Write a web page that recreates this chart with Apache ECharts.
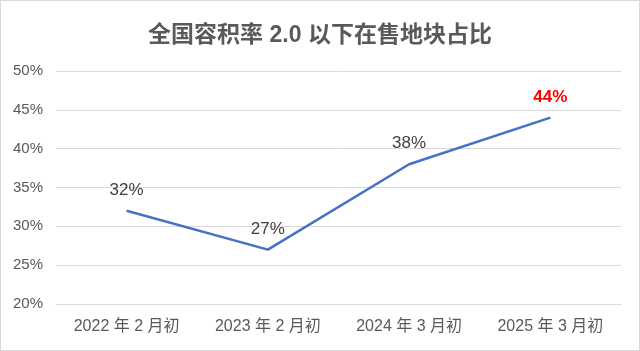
<!DOCTYPE html>
<html>
<head>
<meta charset="utf-8">
<script src="https://cdn.jsdelivr.net/npm/echarts@6/dist/echarts.min.js"></script>
<style>
  html, body { margin: 0; padding: 0; background: #fff; }
  #chart { width: 638px; height: 349px; border: 1px solid #d9d9d9; }
</style>
</head>
<body>
<div id="chart"></div>
<script>
const categories = ['2022 年 2 月初', '2023 年 2 月初', '2024 年 3 月初', '2025 年 3 月初']
const values = [32, 27, 38, 44]
const highlightIndex = 3

const chart = echarts.init(document.getElementById('chart'))
const font = '"Liberation Sans", "Noto Sans CJK SC", Arial, sans-serif'

chart.setOption({
  animation: false,
  title: {
    text: '全国容积率 2.0 以下在售地块占比',
    left: 'center',
    top: 18,
    textStyle: { fontFamily: font, fontSize: 23, fontWeight: 'bold', color: '#595959' }
  },
  grid: { left: 55, right: 18, top: 70, bottom: 46 },
  xAxis: {
    type: 'category',
    data: categories,
    boundaryGap: true,
    axisLine: { lineStyle: { color: '#d9d9d9' } },
    axisTick: { show: false },
    axisLabel: { color: '#595959', fontSize: 16, fontFamily: font, margin: 15 }
  },
  yAxis: {
    type: 'value',
    min: 20,
    max: 50,
    interval: 5,
    axisLine: { show: false },
    axisTick: { show: false },
    axisLabel: { formatter: '{value}%', color: '#595959', fontSize: 15, fontFamily: font, margin: 13 },
    splitLine: { lineStyle: { color: '#d9d9d9' } }
  },
  series: [{
    type: 'line',
    data: values.map((v, i) => i === highlightIndex
      ? { value: v, label: { color: '#ff0000', fontWeight: 'bold' } }
      : v),
    showSymbol: true,
    symbol: 'circle',
    symbolSize: 0,
    lineStyle: { color: '#4472c4', width: 2.5 },
    itemStyle: { color: '#4472c4' },
    label: {
      show: true,
      position: 'top',
      distance: 12,
      formatter: '{c}%',
      color: '#404040',
      fontSize: 17,
      fontFamily: font
    }
  }]
})
</script>
</body>
</html>
